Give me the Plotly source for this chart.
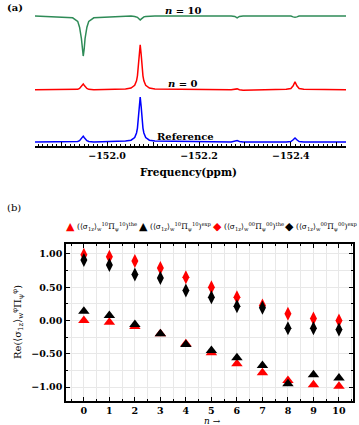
import plotly.graph_objects as go

# ---- panel (a): spectra (arb. units, reference peak = 1)
freq_ppm = [-151.840,
            -151.925, -151.936, -151.940, -151.944, -151.946, -151.948, -151.950, -151.952, -151.956, -151.960, -151.971,
            -152.040, -152.052, -152.060, -152.064, -152.066, -152.068, -152.070, -152.072, -152.074, -152.076, -152.078,
            -152.080, -152.084, -152.092, -152.104,
            -152.270, -152.278, -152.283, -152.288, -152.296,
            -152.390, -152.400, -152.405, -152.409, -152.413, -152.418, -152.428,
            -152.520]

ref_int = [0.00,
           0.00, 0.01, 0.03, 0.07, 0.10, 0.13, 0.10, 0.07, 0.03, 0.01, 0.00,
           0.02, 0.04, 0.10, 0.20, 0.31, 0.50, 0.80, 1.00, 0.80, 0.50, 0.31,
           0.20, 0.10, 0.04, 0.02,
           0.00, 0.01, 0.03, 0.01, 0.00,
           0.00, 0.01, 0.05, 0.09, 0.05, 0.01, 0.00,
           0.00]

n0_int = [1.16,
          1.16, 1.17, 1.19, 1.23, 1.26, 1.29, 1.26, 1.23, 1.19, 1.17, 1.16,
          1.18, 1.20, 1.26, 1.36, 1.47, 1.66, 1.96, 2.16, 1.96, 1.66, 1.47,
          1.36, 1.26, 1.20, 1.18,
          1.16, 1.17, 1.18, 1.16, 1.15,
          1.17, 1.19, 1.25, 1.34, 1.25, 1.19, 1.17,
          1.16]

n10_int = [2.80,
           2.76, 2.68, 2.55, 2.30, 2.06, 1.91, 2.06, 2.30, 2.55, 2.68, 2.76,
           2.80, 2.80, 2.79, 2.78, 2.77, 2.75, 2.73, 2.71, 2.73, 2.75, 2.77,
           2.78, 2.79, 2.80, 2.80,
           2.80, 2.79, 2.76, 2.79, 2.80,
           2.80, 2.80, 2.78, 2.77, 2.78, 2.80, 2.80,
           2.80]

freq_ticks = [-151.9, -152.0, -152.1, -152.2, -152.3, -152.4, -152.5]
freq_labels = ["", "−152.0", "", "−152.2", "", "−152.4", ""]

# ---- panel (b): weak values vs n
n_vals = [0, 1, 2, 3, 4, 5, 6, 7, 8, 9, 10]
tri_the = [0.00, -0.025, -0.09, -0.20, -0.35, -0.485, -0.65, -0.785, -0.90, -0.965, -0.99]
tri_exp = [0.14, 0.075, -0.06, -0.20, -0.36, -0.45, -0.56, -0.675, -0.95, -0.815, -0.865]
dia_the = [0.99, 0.96, 0.895, 0.79, 0.65, 0.50, 0.35, 0.225, 0.10, 0.03, 0.00]
dia_exp = [0.91, 0.835, 0.69, 0.64, 0.45, 0.35, 0.215, 0.19, -0.115, -0.115, -0.135]

legend_labels = [
    "(⟨σ<sub>1z</sub>⟩<sub>w</sub><sup>10</sup>Π<sub>ψ</sub><sup>10</sup>)<sup>the</sup>",
    "(⟨σ<sub>1z</sub>⟩<sub>w</sub><sup>10</sup>Π<sub>ψ</sub><sup>10</sup>)<sup>exp</sup>",
    "(⟨σ<sub>1z</sub>⟩<sub>w</sub><sup>00</sup>Π<sub>ψ</sub><sup>00</sup>)<sup>the</sup>",
    "(⟨σ<sub>1z</sub>⟩<sub>w</sub><sup>00</sup>Π<sub>ψ</sub><sup>00</sup>)<sup>exp</sup>",
]

SERIF = "DejaVu Serif"
W, H = 359, 425

fig = go.Figure()

# spectra
fig.add_trace(go.Scatter(x=freq_ppm, y=ref_int, mode="lines", line=dict(color="#0000ff", width=1.5),
                         xaxis="x", yaxis="y", showlegend=False))
fig.add_trace(go.Scatter(x=freq_ppm, y=n0_int, mode="lines", line=dict(color="#ff0000", width=1.5),
                         xaxis="x", yaxis="y", showlegend=False))
fig.add_trace(go.Scatter(x=freq_ppm, y=n10_int, mode="lines", line=dict(color="#2e8b57", width=1.5),
                         xaxis="x", yaxis="y", showlegend=False))

# markers
series = [(tri_the, "triangle-up", "#ff0000"), (tri_exp, "triangle-up", "black"),
          (dia_the, "diamond-tall", "#ff0000"), (dia_exp, "diamond-tall", "black")]
for vals, sym, col in series:
    fig.add_trace(go.Scatter(x=n_vals, y=vals, mode="markers", xaxis="x2", yaxis="y2",
                             marker=dict(symbol=sym, size=10, color=col, line=dict(width=0)),
                             showlegend=False))

fig.update_layout(
    width=W, height=H, margin=dict(l=0, r=0, t=0, b=0),
    paper_bgcolor="white", plot_bgcolor="white",
    font=dict(family=SERIF, size=10, color="black"),
    xaxis=dict(domain=[35 / W, 346 / W], anchor="y", range=[-151.843, -152.52],
               tickmode="array", tickvals=freq_ticks, ticktext=freq_labels,
               ticks="inside", ticklen=4, tickwidth=1.2, tickcolor="black",
               showline=True, linecolor="black", linewidth=1.5, showgrid=False, zeroline=False,
               tickfont=dict(family=SERIF, size=9.5, weight="bold"),
               minor=dict(dtick=0.01, tick0=-152.0, ticks="inside", ticklen=2, tickcolor="black")),
    yaxis=dict(domain=[1 - 146 / H, 1 - 5 / H], anchor="x", range=[-0.089, 3.044], visible=False),
    xaxis2=dict(domain=[66 / W, 353 / W], anchor="y2", range=[-0.7, 10.55],
                tickmode="linear", tick0=0, dtick=1, ticks="inside", ticklen=4, tickcolor="black",
                showline=True, linecolor="black", linewidth=1.5, mirror="allticks",
                showgrid=True, gridcolor="#e8e8e8", gridwidth=1, zeroline=False,
                tickfont=dict(family=SERIF, size=9.5, weight="bold"),
                minor=dict(dtick=0.5, ticks="inside", ticklen=2, tickcolor="black",
                           showgrid=True, gridcolor="#e8e8e8")),
    yaxis2=dict(domain=[1 - 401 / H, 1 - 244 / H], anchor="x2", range=[-1.21, 1.15],
                tickmode="linear", tick0=0, dtick=0.5, tickformat=".2f", ticks="inside", ticklen=4,
                tickcolor="black", showline=True, linecolor="black", linewidth=1.5, mirror="allticks",
                showgrid=True, gridcolor="#e8e8e8", gridwidth=1, zeroline=False,
                tickfont=dict(family=SERIF, size=9.5, weight="bold"),
                minor=dict(dtick=0.25, ticks="inside", ticklen=2, tickcolor="black",
                           showgrid=True, gridcolor="#e8e8e8")),
)

ann = []
def px_ann(text, x, y, size=10, bold=False, color="black", xanchor="center", angle=0, family=SERIF):
    ann.append(dict(text=text, x=x / W, y=1 - y / H, xref="paper", yref="paper", showarrow=False,
                    xanchor=xanchor, yanchor="middle", textangle=angle,
                    font=dict(family=family, size=size, color=color, weight="bold" if bold else "normal")))

px_ann("(a)", 5, 7, size=10, bold=True, xanchor="left")
px_ann("(b)", 5, 207, size=10, xanchor="left")
px_ann("<i>n</i> = 10", 183, 11, size=10, bold=True)
px_ann("<i>n</i> = 0", 183, 83, size=10, bold=True)
px_ann("Reference", 185, 136, size=10, bold=True)
px_ann("Frequency(ppm)", 188, 172, size=10.5, bold=True)
px_ann("<i>n</i> →", 212, 421, size=9)
px_ann("Re(⟨σ<sub>1z</sub>⟩<sub>w</sub><sup>φ</sup>Π<sub>ψ</sub><sup>φ</sup>)", 18, 322, size=10, angle=-90)

sym_x = [70, 143, 217, 289]
sym_txt = ["▲", "▲", "◆", "◆"]
sym_col = ["#ff0000", "black", "#ff0000", "black"]
for sx, st, sc, lab in zip(sym_x, sym_txt, sym_col, legend_labels):
    px_ann(st, sx, 227, size=11, color=sc, family="DejaVu Sans")
    px_ann(lab, sx + 5, 227, size=7.5, xanchor="left")

fig.update_layout(annotations=ann)
fig.write_html("out.html", config={"displayModeBar": False},
               post_script="document.body.style.margin='0';")
